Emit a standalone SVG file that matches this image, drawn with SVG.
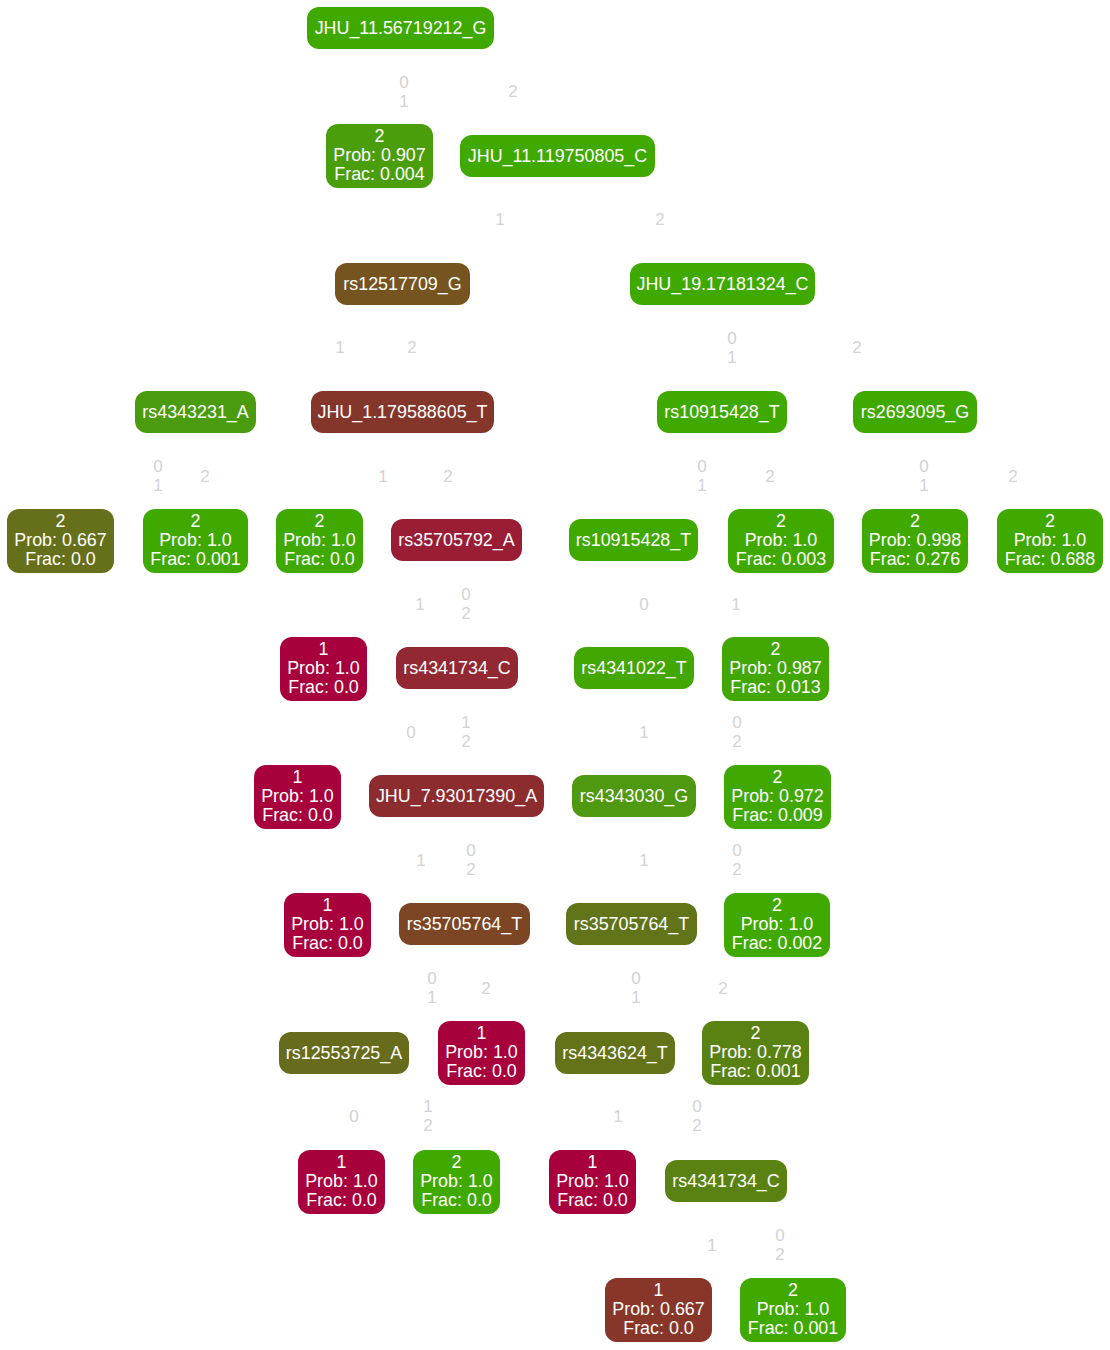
<svg xmlns="http://www.w3.org/2000/svg" width="1110" height="1350" viewBox="0 0 1110 1350">
<style>
text{font-family:"Liberation Sans",Arial,Helvetica,sans-serif}
.n text{fill:#ffffff;font-size:17.9px;text-anchor:middle}
.n rect{rx:12;ry:12}
.e text{fill:#d3d3d3;font-size:17px;text-anchor:middle}
</style>
<rect width="1110" height="1350" fill="#ffffff"/>
<g id="edges" class="e">
<text x="404" y="88">0</text><text x="404" y="107">1</text><text x="513" y="97">2</text>
<text x="500" y="225">1</text><text x="660" y="225">2</text>
<text x="340" y="353">1</text><text x="412" y="353">2</text>
<text x="732" y="344">0</text><text x="732" y="363">1</text><text x="857" y="353">2</text>
<text x="158" y="472">0</text><text x="158" y="491">1</text><text x="205" y="482">2</text>
<text x="383" y="482">1</text><text x="448" y="482">2</text>
<text x="702" y="472">0</text><text x="702" y="491">1</text><text x="770" y="482">2</text>
<text x="924" y="472">0</text><text x="924" y="491">1</text><text x="1013" y="482">2</text>
<text x="420" y="610">1</text><text x="466" y="600">0</text><text x="466" y="619">2</text>
<text x="644" y="610">0</text><text x="736" y="610">1</text>
<text x="411" y="738">0</text><text x="466" y="728">1</text><text x="466" y="747">2</text>
<text x="644" y="738">1</text><text x="737" y="728">0</text><text x="737" y="747">2</text>
<text x="421" y="866">1</text><text x="471" y="856">0</text><text x="471" y="875">2</text>
<text x="644" y="866">1</text><text x="737" y="856">0</text><text x="737" y="875">2</text>
<text x="432" y="984">0</text><text x="432" y="1003">1</text><text x="486" y="994">2</text>
<text x="636" y="984">0</text><text x="636" y="1003">1</text><text x="723" y="994">2</text>
<text x="354" y="1122">0</text><text x="428" y="1112">1</text><text x="428" y="1131">2</text>
<text x="618" y="1122">1</text><text x="697" y="1112">0</text><text x="697" y="1131">2</text>
<text x="712" y="1251">1</text><text x="780" y="1241">0</text><text x="780" y="1260">2</text>
</g>
<g class="n">
<g id="n0"><rect x="307" y="7" width="187" height="42" fill="#3fa900"/><text x="400.5" y="34">JHU_11.56719212_G</text></g>
<g id="n1"><rect x="326" y="124" width="107" height="64" fill="#4a9e0b"/><text x="379.5" y="142">2</text><text x="379.5" y="161">Prob: 0.907</text><text x="379.5" y="180">Frac: 0.004</text></g>
<g id="n2"><rect x="460" y="135" width="195" height="42" fill="#3fa900"/><text x="557.5" y="162">JHU_11.119750805_C</text></g>
<g id="n3"><rect x="335" y="263" width="135" height="42" fill="#765420"/><text x="402.5" y="290">rs12517709_G</text></g>
<g id="n4"><rect x="630" y="263" width="185" height="42" fill="#3fa900"/><text x="722.5" y="290">JHU_19.17181324_C</text></g>
<g id="n5"><rect x="135" y="391" width="121" height="42" fill="#4b9b0e"/><text x="195.5" y="418">rs4343231_A</text></g>
<g id="n6"><rect x="311" y="391" width="183" height="42" fill="#85362a"/><text x="402.5" y="418">JHU_1.179588605_T</text></g>
<g id="n7"><rect x="657" y="391" width="130" height="42" fill="#3fa900"/><text x="722" y="418">rs10915428_T</text></g>
<g id="n8"><rect x="853" y="391" width="124" height="42" fill="#3fa900"/><text x="915" y="418">rs2693095_G</text></g>
<g id="n9"><rect x="7" y="509" width="107" height="64" fill="#66701a"/><text x="60.5" y="527">2</text><text x="60.5" y="546">Prob: 0.667</text><text x="60.5" y="565">Frac: 0.0</text></g>
<g id="n10"><rect x="143" y="509" width="105" height="64" fill="#3fa900"/><text x="195.5" y="527">2</text><text x="195.5" y="546">Prob: 1.0</text><text x="195.5" y="565">Frac: 0.001</text></g>
<g id="n11"><rect x="276" y="509" width="87" height="64" fill="#3fa900"/><text x="319.5" y="527">2</text><text x="319.5" y="546">Prob: 1.0</text><text x="319.5" y="565">Frac: 0.0</text></g>
<g id="n12"><rect x="391" y="519" width="131" height="42" fill="#9a1d36"/><text x="456.5" y="546">rs35705792_A</text></g>
<g id="n13"><rect x="569" y="519" width="129" height="42" fill="#3fa900"/><text x="633.5" y="546">rs10915428_T</text></g>
<g id="n14"><rect x="728" y="509" width="106" height="64" fill="#3fa900"/><text x="781" y="527">2</text><text x="781" y="546">Prob: 1.0</text><text x="781" y="565">Frac: 0.003</text></g>
<g id="n15"><rect x="862" y="509" width="106" height="64" fill="#3fa900"/><text x="915" y="527">2</text><text x="915" y="546">Prob: 0.998</text><text x="915" y="565">Frac: 0.276</text></g>
<g id="n16"><rect x="997" y="509" width="106" height="64" fill="#3fa900"/><text x="1050" y="527">2</text><text x="1050" y="546">Prob: 1.0</text><text x="1050" y="565">Frac: 0.688</text></g>
<g id="n17"><rect x="280" y="637" width="87" height="64" fill="#a8003c"/><text x="323.5" y="655">1</text><text x="323.5" y="674">Prob: 1.0</text><text x="323.5" y="693">Frac: 0.0</text></g>
<g id="n18"><rect x="396" y="647" width="122" height="42" fill="#922832"/><text x="457" y="674">rs4341734_C</text></g>
<g id="n19"><rect x="574" y="647" width="120" height="42" fill="#42a603"/><text x="634" y="674">rs4341022_T</text></g>
<g id="n20"><rect x="722" y="637" width="107" height="64" fill="#42a603"/><text x="775.5" y="655">2</text><text x="775.5" y="674">Prob: 0.987</text><text x="775.5" y="693">Frac: 0.013</text></g>
<g id="n21"><rect x="254" y="765" width="87" height="64" fill="#a8003c"/><text x="297.5" y="783">1</text><text x="297.5" y="802">Prob: 1.0</text><text x="297.5" y="821">Frac: 0.0</text></g>
<g id="n22"><rect x="369" y="775" width="175" height="42" fill="#8c2c2f"/><text x="456.5" y="802">JHU_7.93017390_A</text></g>
<g id="n23"><rect x="572" y="775" width="124" height="42" fill="#4e990f"/><text x="634" y="802">rs4343030_G</text></g>
<g id="n24"><rect x="724" y="765" width="107" height="64" fill="#40a801"/><text x="777.5" y="783">2</text><text x="777.5" y="802">Prob: 0.972</text><text x="777.5" y="821">Frac: 0.009</text></g>
<g id="n25"><rect x="284" y="893" width="87" height="64" fill="#a8003c"/><text x="327.5" y="911">1</text><text x="327.5" y="930">Prob: 1.0</text><text x="327.5" y="949">Frac: 0.0</text></g>
<g id="n26"><rect x="399" y="903" width="131" height="42" fill="#7c4624"/><text x="464.5" y="930">rs35705764_T</text></g>
<g id="n27"><rect x="566" y="903" width="131" height="42" fill="#62741a"/><text x="631.5" y="930">rs35705764_T</text></g>
<g id="n28"><rect x="724" y="893" width="106" height="64" fill="#3fa900"/><text x="777" y="911">2</text><text x="777" y="930">Prob: 1.0</text><text x="777" y="949">Frac: 0.002</text></g>
<g id="n29"><rect x="279" y="1032" width="130" height="42" fill="#676b1c"/><text x="344" y="1059">rs12553725_A</text></g>
<g id="n30"><rect x="438" y="1021" width="87" height="64" fill="#a8003c"/><text x="481.5" y="1039">1</text><text x="481.5" y="1058">Prob: 1.0</text><text x="481.5" y="1077">Frac: 0.0</text></g>
<g id="n31"><rect x="555" y="1032" width="120" height="42" fill="#64721a"/><text x="615" y="1059">rs4343624_T</text></g>
<g id="n32"><rect x="702" y="1021" width="107" height="64" fill="#5a8213"/><text x="755.5" y="1039">2</text><text x="755.5" y="1058">Prob: 0.778</text><text x="755.5" y="1077">Frac: 0.001</text></g>
<g id="n33"><rect x="298" y="1150" width="87" height="64" fill="#a8003c"/><text x="341.5" y="1168">1</text><text x="341.5" y="1187">Prob: 1.0</text><text x="341.5" y="1206">Frac: 0.0</text></g>
<g id="n34"><rect x="413" y="1150" width="87" height="64" fill="#3fa900"/><text x="456.5" y="1168">2</text><text x="456.5" y="1187">Prob: 1.0</text><text x="456.5" y="1206">Frac: 0.0</text></g>
<g id="n35"><rect x="549" y="1150" width="87" height="64" fill="#a8003c"/><text x="592.5" y="1168">1</text><text x="592.5" y="1187">Prob: 1.0</text><text x="592.5" y="1206">Frac: 0.0</text></g>
<g id="n36"><rect x="665" y="1160" width="122" height="42" fill="#5a8213"/><text x="726" y="1187">rs4341734_C</text></g>
<g id="n37"><rect x="605" y="1278" width="107" height="64" fill="#883629"/><text x="658.5" y="1296">1</text><text x="658.5" y="1315">Prob: 0.667</text><text x="658.5" y="1334">Frac: 0.0</text></g>
<g id="n38"><rect x="740" y="1278" width="106" height="64" fill="#3fa900"/><text x="793" y="1296">2</text><text x="793" y="1315">Prob: 1.0</text><text x="793" y="1334">Frac: 0.001</text></g>
</g>
</svg>
